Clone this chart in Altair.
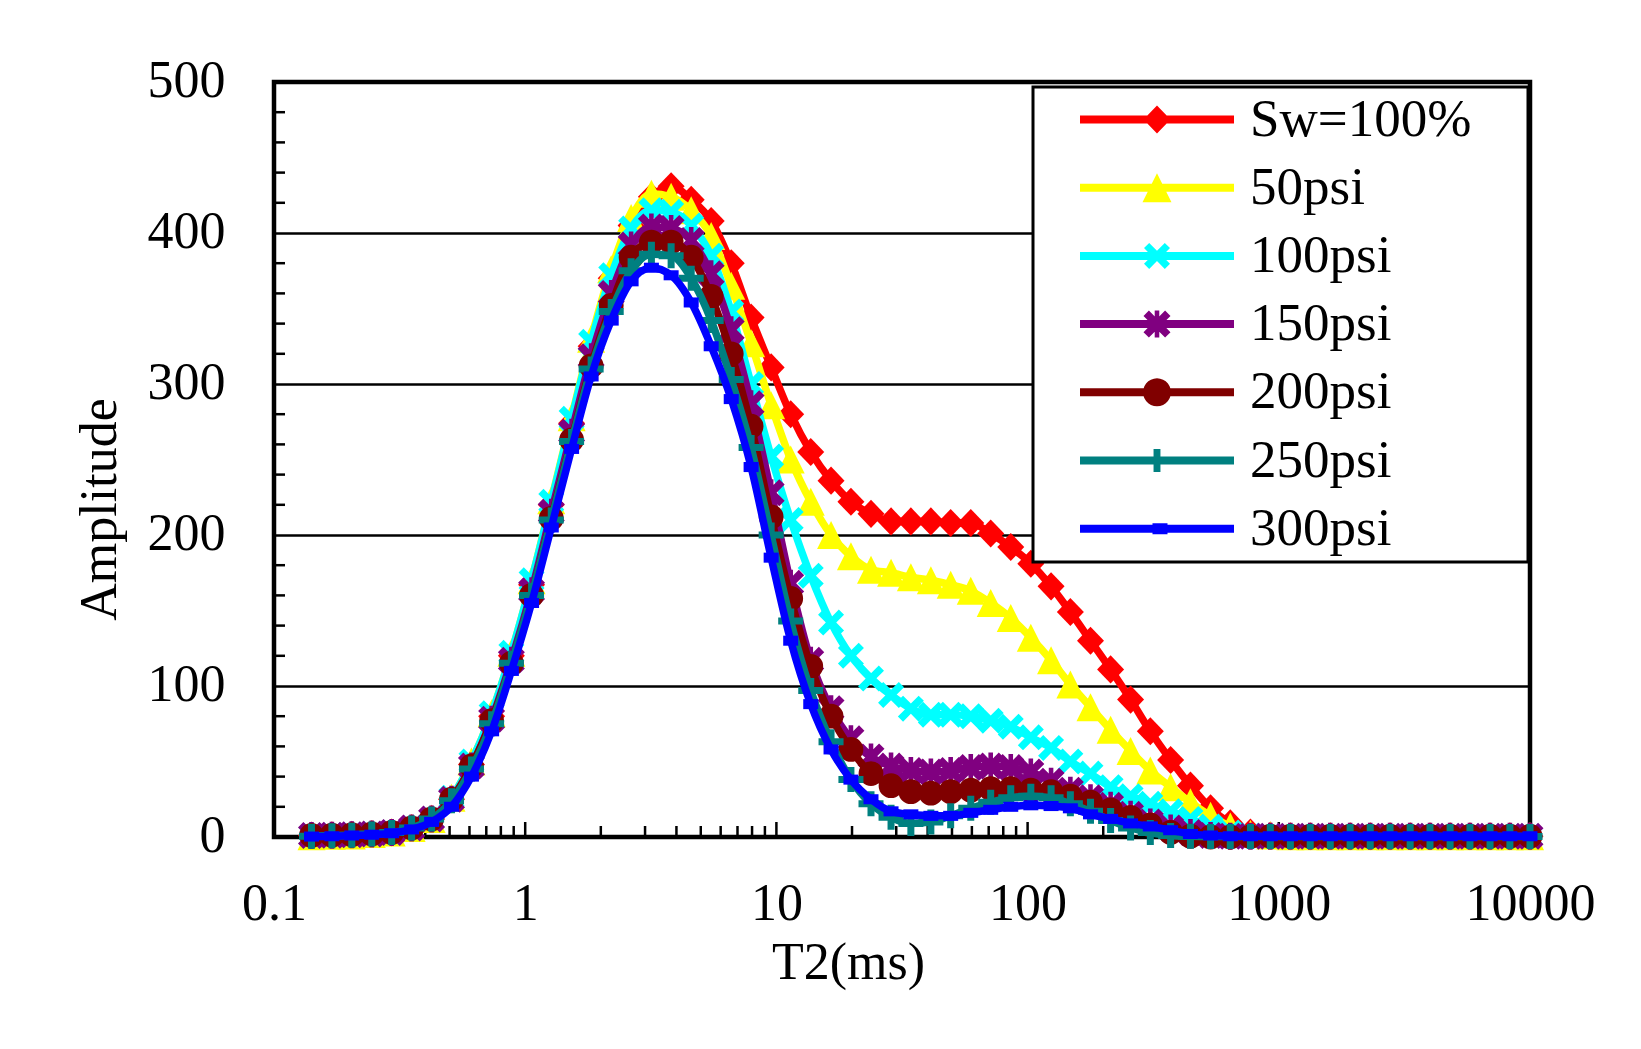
import math
import altair as alt
import pandas as pd

# ---------------- data ----------------
T2 = [0.141, 0.170, 0.204, 0.245, 0.294, 0.353, 0.424, 0.509, 0.611, 0.735, 0.881,
      1.06, 1.27, 1.53, 1.83, 2.20, 2.64, 3.18, 3.81, 4.58, 5.50, 6.61, 7.93, 9.53,
      11.4, 13.7, 16.5, 19.8, 23.8, 28.6, 34.3, 41.2, 49.4, 59.4, 71.3, 85.7,
      103, 124, 148, 178, 214, 257, 308, 371, 445, 535, 641, 771, 925,
      1112, 1334, 1603, 1923, 2312, 2773, 3334, 3999, 4808, 5768, 6934, 8318, 10000]

sw100 = [1, 1.2, 1.5, 2, 3, 6, 12, 25, 48, 80, 120,
         167, 220, 274, 325, 370, 405, 424, 431,
         422, 408, 380, 344, 311, 280, 255, 236, 222, 214, 209, 209, 209, 208, 208, 201, 192, 181,
         166, 149, 130, 111, 91, 70, 51, 34, 19, 9, 3, 1,
         0.5, 0.5, 0.5, 0.5, 0.5, 0.5, 0.5, 0.5, 0.5, 0.5, 0.5, 0.5, 0.5]
p50 = [0.5, 0.8, 1, 2, 3, 6, 12, 26, 50, 82, 122,
       170, 223, 278, 330, 376, 410, 426, 424,
       415, 398, 365, 327, 286, 250, 222, 200, 186, 177, 175, 172, 170, 167, 163, 155, 145, 132,
       117, 101, 86, 71, 57, 44, 33, 23, 14, 7, 2, 1,
       0.5, 0.5, 0.5, 0.5, 0.5, 0.5, 0.5, 0.5, 0.5, 0.5, 0.5, 0.5, 0.5]
p100 = [1, 1.2, 1.5, 2, 3, 6, 12, 26, 50, 82, 122,
        170, 222, 277, 328, 372, 403, 415, 414,
        405, 385, 348, 300, 252, 210, 173, 142, 120, 105, 94, 85, 81, 81, 80, 77, 73, 66,
        59, 50, 42, 33, 27, 22, 17, 12, 7, 3, 1, 0.5,
        0.5, 0.5, 0.5, 0.5, 0.5, 0.5, 0.5, 0.5, 0.5, 0.5, 0.5, 0.5, 0.5]
p150 = [1, 1.2, 1.5, 2, 3, 6, 12, 25, 47, 78, 117,
        163, 215, 268, 318, 360, 392, 404, 403,
        395, 373, 336, 287, 228, 168, 117, 85, 65, 53, 47, 44, 43, 44, 46, 47, 46, 43,
        37, 31, 26, 21, 15, 10, 6, 3, 1, 0.5, 0.5, 0.5,
        0.5, 0.5, 0.5, 0.5, 0.5, 0.5, 0.5, 0.5, 0.5, 0.5, 0.5, 0.5, 0.5]
p200 = [1, 1.2, 1.5, 2, 3, 6, 12, 25, 47, 77, 115,
        160, 211, 263, 312, 352, 384, 394, 394,
        384, 358, 320, 272, 212, 158, 113, 80, 58, 42, 34, 30, 29, 30, 31, 32, 32, 31,
        30, 27, 23, 18, 13, 8, 3, 0.5, 0, 0, 0.3, 0.5,
        0.5, 0.5, 0.5, 0.5, 0.5, 0.5, 0.5, 0.5, 0.5, 0.5, 0.5, 0.5, 0.5]
p250 = [0.5, 0.8, 1.2, 2, 3, 6, 12, 24, 45, 75, 115,
        160, 210, 262, 310, 348, 375, 386, 385,
        370, 342, 303, 258, 200, 143, 97, 63, 38, 22, 13, 9, 10, 14, 19, 23, 26, 27,
        26, 22, 17, 11, 6, 3, 1, 0.5, 0.3, 0.3, 0.3, 0.3,
        0.3, 0.3, 0.3, 0.3, 0.3, 0.3, 0.3, 0.3, 0.3, 0.3, 0.3, 0.3, 0.3]
p300 = [0.3, 0.5, 1, 1.5, 2.5, 5, 10, 20, 40, 70, 110,
        155, 205, 257, 305, 342, 368, 377, 372,
        354, 325, 290, 245, 185, 130, 88, 58, 38, 25, 17, 15, 14, 14, 16, 18, 20, 21,
        20.5, 19, 15, 12, 9, 7, 4.5, 2, 1, 0.5, 0.5, 0.5,
        0.5, 0.5, 0.5, 0.5, 0.5, 0.5, 0.5, 0.5, 0.5, 0.5, 0.5, 0.5, 0.5]

SERIES = ["Sw=100%", "50psi", "100psi", "150psi", "200psi", "250psi", "300psi"]
VALUES = [sw100, p50, p100, p150, p200, p250, p300]
COLORS = ["#FF0000", "#FFFF00", "#00FFFF", "#800080", "#800000", "#008080", "#0000FF"]

Y_TICKS = [0, 100, 200, 300, 400, 500]
Y_MINOR = [20, 40, 60, 80, 120, 140, 160, 180, 220, 240, 260, 280,
           320, 340, 360, 380, 420, 440, 460, 480]
X_LABELS = [0.1, 1, 10, 100, 1000, 10000]
X_MINOR = [k * 10 ** d for d in range(-1, 4) for k in range(2, 10)]
X_MAJOR = [1, 10, 100, 1000]

# ---------------- style ----------------
FONT = "Liberation Serif"
W, H = 1256, 755


def poly(points, s=1.0, cx=0.0):
    return "M" + "L".join(f"{cx + x * s:.3f},{y * s:.3f}" for x, y in points) + "Z"


DIAMOND = [(0, -1.04), (1, 0), (0, 1.04), (-1, 0)]
TRIANGLE = [(0, -1), (1, 1), (-1, 1)]
XMARK = [(-1, -0.6), (-0.6, -1), (0, -0.4), (0.6, -1), (1, -0.6), (0.4, 0),
         (1, 0.6), (0.6, 1), (0, 0.4), (-0.6, 1), (-1, 0.6), (-0.4, 0)]
VBAR = [(-0.17, -1), (0.17, -1), (0.17, 1), (-0.17, 1)]
CIRCLE = [(math.cos(2 * math.pi * k / 28), math.sin(2 * math.pi * k / 28)) for k in range(28)]
PLUS = [(-0.28, -1), (0.28, -1), (0.28, -0.28), (1, -0.28), (1, 0.28), (0.28, 0.28),
        (0.28, 1), (-0.28, 1), (-0.28, 0.28), (-1, 0.28), (-1, -0.28), (-0.28, -0.28)]
DASH = [(-1, -0.67), (1, -0.67), (1, 0.67), (-1, 0.67)]

PLOT_SHAPES = [poly(DIAMOND), poly(TRIANGLE), poly(XMARK), poly(XMARK) + poly(VBAR),
               "circle", poly(PLUS), poly(DASH)]
PLOT_SIZES = [729, 784, 676, 729, 616, 625, 225]

# legend symbols: line + marker (unit = 15 px)
LU = 15.0
line_len = 154 / LU
LINE = [(-1, -4 / LU), (-1 + line_len, -4 / LU), (-1 + line_len, 4 / LU), (-1, 4 / LU)]
MC = -1 + 77 / LU
EXT = 28.45  # invisible point that widens the legend box to the right
GHOST = f"M{EXT:.2f},0L{EXT:.2f},0.01L{EXT - 0.01:.2f},0.01Z"
LEG_SHAPES = [
    poly(LINE) + poly(DIAMOND, 13.5 / LU, MC) + GHOST,
    poly(LINE) + poly(TRIANGLE, 14.5 / LU, MC) + GHOST,
    poly(LINE) + poly(XMARK, 13 / LU, MC) + GHOST,
    poly(LINE) + poly(XMARK, 13.5 / LU, MC) + poly(VBAR, 13.5 / LU, MC) + GHOST,
    poly(LINE) + poly(CIRCLE, 14 / LU, MC) + GHOST,
    poly(LINE) + poly([(-0.23, -0.77), (0.23, -0.77), (0.23, 0.77), (-0.23, 0.77)], 1, MC) + GHOST,
    poly(LINE) + poly([(-0.5, -0.37), (0.5, -0.37), (0.5, 0.37), (-0.5, 0.37)], 1, MC + 0.2) + GHOST,
]

rows = []
for name, vals in zip(SERIES, VALUES):
    for t, v in zip(T2, vals):
        rows.append({"T2": t, "amp": v, "series": name})
df = pd.DataFrame(rows)

xscale = alt.Scale(type="log", domain=[0.1, 10000], nice=False)
yscale = alt.Scale(domain=[0, 500], nice=False, zero=False)

x_axis = alt.Axis(values=X_LABELS, format="~g", ticks=False, tickSize=0, domain=False, grid=False,
                  labelFont=FONT, labelFontSize=52, labelColor="black", labelFlush=False,
                  labelOverlap=False, labelBaseline="alphabetic", labelPadding=82,
                  title="T2(ms)", titleFont=FONT, titleFontSize=52, titleFontWeight="normal",
                  titleColor="black", titleX=574, titleY=141, titleAlign="center",
                  titleBaseline="alphabetic")
y_axis = alt.Axis(values=Y_TICKS, ticks=False, tickSize=0, domain=False, grid=True,
                  gridColor="black", gridWidth=2.5, gridOpacity=1,
                  labelFont=FONT, labelFontSize=52, labelColor="black", labelPadding=49,
                  labelFlush=False, labelOverlap=False, labelOffset=-2,
                  title="Amplitude", titleFont=FONT, titleFontSize=52, titleFontWeight="normal",
                  titleColor="black", titleAngle=270, titleX=-175, titleY=427,
                  titleAlign="center", titleBaseline="middle")


def xe(field="T2"):
    return alt.X(f"{field}:Q", scale=xscale, axis=x_axis)


def ye(field="amp"):
    return alt.Y(f"{field}:Q", scale=yscale, axis=y_axis)


legend = alt.Legend(title=None, orient="none", legendX=759, legendY=5, padding=6,
                    symbolOffset=29.5, labelOffset=128.5, rowPadding=14.2, symbolSize=900,
                    symbolStrokeWidth=0, symbolOpacity=1, labelFont=FONT, labelFontSize=53,
                    labelColor="black", labelLimit=800, strokeColor="black", fillColor="white")

legend_layer = alt.Chart(df).mark_point(filled=True, opacity=0, size=900).encode(
    x=xe(), y=ye(),
    color=alt.Color("series:N", scale=alt.Scale(domain=SERIES, range=COLORS), legend=legend),
    shape=alt.Shape("series:N", scale=alt.Scale(domain=SERIES, range=LEG_SHAPES), legend=legend),
)

ytick = alt.Chart(pd.DataFrame({"amp": Y_MINOR})).mark_rule(color="black", strokeWidth=2.5).encode(
    y=ye(), x=alt.value(0), x2=alt.value(11))
xtick = alt.Chart(pd.DataFrame({"T2": X_MINOR})).mark_rule(color="black", strokeWidth=2.5).encode(
    x=xe(), y=alt.value(H), y2=alt.value(H - 11))
xmajor = alt.Chart(pd.DataFrame({"T2": X_MAJOR})).mark_rule(color="black", strokeWidth=2.5).encode(
    x=xe(), y=alt.value(H), y2=alt.value(H - 15))

layers = [legend_layer, ytick, xtick, xmajor]
for name, col, shp, sz in zip(SERIES, COLORS, PLOT_SHAPES, PLOT_SIZES):
    d = df[df["series"] == name]
    layers.append(alt.Chart(d).mark_line(color=col, strokeWidth=7.5, interpolate="monotone")
                  .encode(x=xe(), y=ye()))
    layers.append(alt.Chart(d).mark_point(shape=shp, size=sz, filled=True, color=col, opacity=1,
                                          strokeWidth=0).encode(x=xe(), y=ye()))

chart = alt.layer(*layers).properties(
    width=W, height=H,
    padding={"left": 266, "top": 74, "right": 100, "bottom": 200},
    autosize=alt.AutoSizeParams(type="none"),
    background="white",
).configure_view(stroke="black", strokeWidth=4.5).configure_legend(strokeWidth=3)

chart.save("out.html", embed_options={"renderer": "svg", "actions": False})
